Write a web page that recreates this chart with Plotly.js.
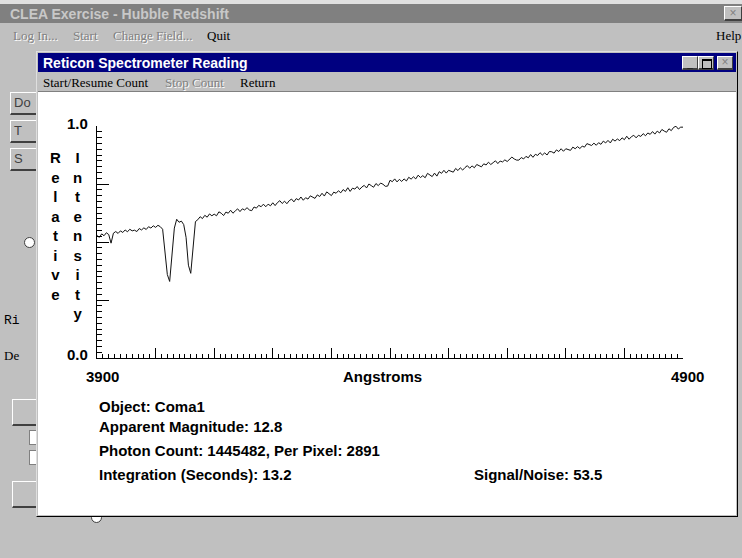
<!DOCTYPE html>
<html>
<head>
<meta charset="utf-8">
<script src="https://cdn.plot.ly/plotly-3.0.1.min.js"></script>
<style>
  html, body { margin:0; padding:0; }
  body { width:742px; height:558px; background:#c0c0c0; position:relative; overflow:hidden;
         font-family:'Liberation Sans', Arial, sans-serif; }
  .abs { position:absolute; }
  .btn { position:absolute; background:#c0c0c0; border-top:1px solid #fff; border-left:1px solid #fff;
         border-right:1px solid #404040; border-bottom:2px solid #404040; box-sizing:border-box; }
  .menu { position:absolute; font-family:'Liberation Serif','Times New Roman',serif; font-size:13px; line-height:15px; color:#000; white-space:nowrap; }
  .dis { color:#808080; text-shadow:1px 1px 0 #fff; }
  .radio { position:absolute; width:9px; height:9px; border-radius:50%; background:#fff; border:1px solid #404040; }
</style>
</head>
<body>
<!-- main window chrome -->
<div class="abs" style="left:0;top:0;width:742px;height:4px;background:#e0e0e0;"></div>
<div class="abs" style="left:0;top:4px;width:742px;height:19px;background:#808080;"></div>
<div class="abs" style="left:10px;top:5px;font-size:14px;font-weight:bold;color:#c8c8c8;line-height:18px;">CLEA Exercise - Hubble Redshift</div>
<div class="btn" style="left:724px;top:6px;width:18px;height:15px;font-size:12px;line-height:12px;text-align:center;color:#808080;">×</div>
<div class="menu dis" style="left:13px;top:28px;">Log In...</div>
<div class="menu dis" style="left:73px;top:28px;">Start</div>
<div class="menu dis" style="left:113px;top:28px;">Change Field...</div>
<div class="menu" style="left:207px;top:28px;">Quit</div>
<div class="menu" style="left:716px;top:28px;">Help</div>

<!-- controls of the main window behind the dialog -->
<div class="btn" style="left:10px;top:92px;width:40px;height:23px;font-size:13px;line-height:20px;padding-left:3px;color:#404040;">Do</div>
<div class="btn" style="left:10px;top:120px;width:40px;height:23px;font-size:13px;line-height:20px;padding-left:3px;color:#404040;">T</div>
<div class="btn" style="left:10px;top:148px;width:40px;height:23px;font-size:13px;line-height:20px;padding-left:3px;color:#404040;">S</div>
<div class="radio" style="left:24px;top:237px;"></div>
<div class="abs" style="left:4px;top:313px;font-family:'Liberation Mono',monospace;font-size:13px;">Ri</div>
<div class="abs" style="left:4px;top:348px;font-family:'Liberation Serif',serif;font-size:13px;">De</div>
<div class="btn" style="left:12px;top:399px;width:40px;height:27px;"></div>
<div class="abs" style="left:29px;top:430px;width:14px;height:13px;background:#fff;border:1px solid #808080;"></div>
<div class="abs" style="left:29px;top:450px;width:14px;height:13px;background:#fff;border:1px solid #808080;"></div>
<div class="btn" style="left:12px;top:481px;width:40px;height:27px;"></div>
<div class="radio" style="left:91px;top:512px;"></div>

<!-- dialog -->
<div class="abs" style="left:36px;top:51px;width:702px;height:466px;background:#c0c0c0;border-top:1px solid #dfdfdf;border-left:1px solid #dfdfdf;border-right:1px solid #000;border-bottom:1px solid #000;box-sizing:border-box;">
  <div class="abs" style="left:1px;top:1px;width:698px;height:19px;background:#000080;"></div>
  <div class="abs" style="left:6px;top:2px;font-size:14px;font-weight:bold;color:#fff;line-height:18px;">Reticon Spectrometer Reading</div>
  <div class="btn" style="left:645px;top:4px;width:16px;height:14px;font-size:10px;line-height:14px;text-align:center;font-weight:bold;">_</div>
  <div class="btn" style="left:661px;top:4px;width:16px;height:14px;"><div class="abs" style="left:3px;top:2px;width:8px;height:7px;border:1px solid #000;border-top-width:2px;"></div></div>
  <div class="btn" style="left:680px;top:4px;width:16px;height:14px;font-size:12px;line-height:11px;text-align:center;color:#808080;">×</div>
  <div class="menu" style="left:6px;top:23px;">Start/Resume Count</div>
  <div class="menu dis" style="left:128px;top:23px;">Stop Count</div>
  <div class="menu" style="left:203px;top:23px;">Return</div>
  <div class="abs" style="left:1px;top:39px;width:698px;height:1px;background:#808080;"></div>
</div>
<div id="chart" class="abs" style="left:38px;top:92px;width:698px;height:423px;background:#fff;"></div>

<script>
// Spectrum: relative intensity sampled every 4 Angstroms from 3900 to 4900
const startWavelength = 3900;
const wavelengthStep = 4;
const relativeIntensity = [
  0.528,0.520,0.535,0.527,0.540,0.532,0.495,0.538,0.545,0.537,
  0.548,0.541,0.552,0.544,0.555,0.548,0.551,0.545,0.558,0.552,
  0.561,0.554,0.566,0.560,0.570,0.563,0.572,0.566,0.555,0.470,
  0.360,0.330,0.430,0.560,0.598,0.585,0.590,0.575,0.520,0.400,
  0.365,0.480,0.588,0.596,
  0.609,0.601,0.615,0.607,0.621,0.613,0.620,0.613,0.630,0.624,
  0.614,0.629,0.624,0.637,0.624,0.634,0.643,0.631,0.643,0.638,
  0.648,0.638,0.635,0.651,0.646,0.658,0.652,0.663,0.652,0.663,
  0.656,0.669,0.657,0.670,0.678,0.666,0.676,0.665,0.678,0.685,
  0.673,0.687,0.681,0.694,0.680,0.691,0.685,0.699,0.695,0.688,
  0.703,0.696,0.710,0.698,0.716,0.706,0.700,0.715,0.710,0.721,
  0.712,0.726,0.718,0.734,0.718,0.732,0.728,0.739,0.726,0.737,
  0.744,0.733,0.750,0.743,0.736,0.752,0.743,0.754,0.749,0.740,
  0.741,0.766,0.760,0.772,0.759,0.770,0.761,0.772,0.763,0.779,
  0.771,0.781,0.772,0.788,0.778,0.786,0.777,0.796,0.789,0.782,
  0.797,0.784,0.803,0.796,0.809,0.797,0.809,0.805,0.801,0.817,
  0.808,0.820,0.810,0.821,0.829,0.818,0.828,0.820,0.834,0.829,
  0.824,0.837,0.832,0.844,0.834,0.842,0.850,0.838,0.849,0.845,
  0.854,0.847,0.856,0.866,0.858,0.853,0.853,0.864,0.858,0.869,
  0.863,0.877,0.865,0.878,0.873,0.885,0.875,0.884,0.875,0.890,
  0.889,0.883,0.897,0.890,0.902,0.891,0.902,0.900,0.895,0.909,
  0.902,0.911,0.903,0.913,0.909,0.924,0.919,0.916,0.926,0.917,
  0.928,0.921,0.935,0.927,0.938,0.927,0.943,0.935,0.944,0.937,
  0.949,0.941,0.956,0.943,0.954,0.960,0.949,0.960,0.955,0.967,
  0.958,0.970,0.964,0.976,0.965,0.978,0.970,0.985,0.978,0.973,
  0.988,0.980,0.994,0.999,0.987,0.995,0.995
];
const xRange = [3900, 4900];
const yRange = [0, 1];
const xTickLabels = ['3900', '4900'];
const yTickLabels = ['0.0', '1.0'];
const xAxisTitle = 'Angstroms';
const yAxisTitleWords = ['Relative', 'Intensity'];
const infoLines = [
  'Object: Coma1',
  'Apparent Magnitude: 12.8',
  'Photon Count: 1445482, Per Pixel: 2891',
  'Integration (Seconds): 13.2'
];
const signalNoiseText = 'Signal/Noise: 53.5';

const FONT = 'Liberation Sans, Arial, sans-serif';
const f = (size) => ({family: FONT, size: size, color: '#000'});
const vert = (w) => w.split('').join('<br>');

const ann = [];
ann.push({xref:'paper', yref:'paper', x:-0.012, y:1.01, xanchor:'right', yanchor:'middle', text:'<b>'+yTickLabels[1]+'</b>', showarrow:false, font:f(15)});
ann.push({xref:'paper', yref:'paper', x:-0.012, y:0.013, xanchor:'right', yanchor:'middle', text:'<b>'+yTickLabels[0]+'</b>', showarrow:false, font:f(15)});
ann.push({xref:'paper', yref:'paper', x:0.009, y:-0.078, xanchor:'center', yanchor:'middle', text:'<b>'+xTickLabels[0]+'</b>', showarrow:false, font:f(15)});
ann.push({xref:'paper', yref:'paper', x:1.007, y:-0.078, xanchor:'center', yanchor:'middle', text:'<b>'+xTickLabels[1]+'</b>', showarrow:false, font:f(15)});
ann.push({xref:'paper', yref:'paper', x:0.488, y:-0.078, xanchor:'center', yanchor:'middle', text:'<b>'+xAxisTitle+'</b>', showarrow:false, font:f(15)});
ann.push({xref:'paper', yref:'paper', x:-0.070, y:0.91, xanchor:'center', yanchor:'top', text:'<b>'+vert(yAxisTitleWords[0])+'</b>', showarrow:false, font:f(15)});
ann.push({xref:'paper', yref:'paper', x:-0.034, y:0.91, xanchor:'center', yanchor:'top', text:'<b>'+vert(yAxisTitleWords[1])+'</b>', showarrow:false, font:f(15)});
const infoY = [-0.207, -0.297, -0.397, -0.5];
infoLines.forEach((t, i) => ann.push({xref:'paper', yref:'paper', x:0, y:infoY[i], xanchor:'left', yanchor:'middle', text:'<b>'+t+'</b>', showarrow:false, font:f(15)}));
ann.push({xref:'paper', yref:'paper', x:0.64, y:-0.5, xanchor:'left', yanchor:'middle', text:'<b>'+signalNoiseText+'</b>', showarrow:false, font:f(15)});

const trace = {
  type:'scatter', mode:'lines',
  x0:startWavelength, dx:wavelengthStep, y:relativeIntensity,
  line:{color:'#111', width:1}, hoverinfo:'skip'
};

const layout = {
  width:698, height:423,
  margin:{l:59, r:53, t:34, b:157, pad:0},
  paper_bgcolor:'#fff', plot_bgcolor:'#fff',
  showlegend:false,
  xaxis:{range:xRange, showgrid:false, zeroline:false, showline:true, linecolor:'#000', linewidth:1,
         ticks:'inside', ticklen:10, tickwidth:1, tickcolor:'#000', tick0:3900, dtick:100, showticklabels:false,
         minor:{ticks:'inside', ticklen:4, tickwidth:1, tickcolor:'#000', dtick:10, showgrid:false}},
  yaxis:{range:yRange, showgrid:false, zeroline:false, showline:true, linecolor:'#000', linewidth:1,
         ticks:'inside', ticklen:12, tickwidth:1, tickcolor:'#000', tick0:0, dtick:0.25, showticklabels:false,
         minor:{ticks:'inside', ticklen:5, tickwidth:1, tickcolor:'#000', dtick:0.025, showgrid:false}},
  annotations:ann
};

Plotly.newPlot('chart', [trace], layout, {staticPlot:true, displayModeBar:false});
</script>
</body>
</html>
